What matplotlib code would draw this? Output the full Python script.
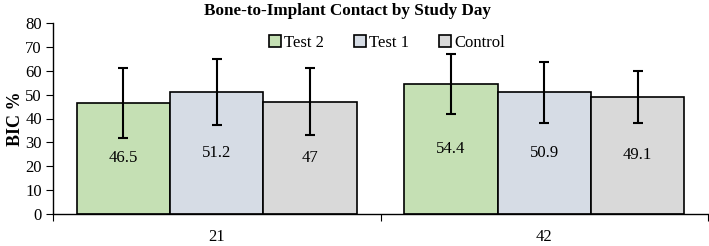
import matplotlib
matplotlib.use("Agg")
import matplotlib.pyplot as plt
import numpy as np

plt.rcParams['font.family'] = ['Liberation Serif', 'DejaVu Serif']

days = ["21", "42"]
series = ["Test 2", "Test 1", "Control"]
values = {
    "Test 2": [46.5, 54.4],
    "Test 1": [51.2, 50.9],
    "Control": [47, 49.1],
}
errors = {
    "Test 2": [14.5, 12.5],
    "Test 1": [13.8, 12.8],
    "Control": [14.0, 11.0],
}
labels = {
    "Test 2": ["46.5", "54.4"],
    "Test 1": ["51.2", "50.9"],
    "Control": ["47", "49.1"],
}
colors = {"Test 2": "#C5E0B4", "Test 1": "#D6DCE5", "Control": "#D9D9D9"}

fig = plt.figure(figsize=(7.09, 2.46), dpi=100)
ax = fig.add_axes([53/709, 1-214/246, 655/709, 191/246])

x = np.arange(len(days))
w = 0.285
for i, s in enumerate(series):
    pos = x + (i - 1) * w
    ax.bar(pos, values[s], width=w, color=colors[s], edgecolor='black',
           linewidth=1.2, label=s, zorder=2)
    ax.errorbar(pos, values[s], yerr=errors[s], fmt='none', ecolor='black',
                elinewidth=1.5, capsize=3.5, capthick=1.5, zorder=3)
    for p, v, t in zip(pos, values[s], labels[s]):
        ax.text(p, v / 2, t, ha='center', va='center', fontsize=12, zorder=4)

ax.set_xlim(-0.5, 1.5)
ax.set_ylim(0, 80)
ax.set_yticks(range(0, 81, 10))
ax.set_xticks([-0.5, 0.5, 1.5])
ax.set_xticklabels([])
ax.set_xticks(x, minor=True)
ax.set_xticklabels(days, minor=True)
ax.tick_params(axis='x', which='minor', length=0, pad=11, labelsize=12)
ax.tick_params(axis='x', which='major', length=5, direction='out')
ax.tick_params(axis='y', length=5, direction='out', labelsize=12, pad=3)
for sp in ['top', 'right']:
    ax.spines[sp].set_visible(False)
ax.spines['left'].set_linewidth(1.0)
ax.spines['bottom'].set_linewidth(1.0)

ax.set_ylabel("BIC %", fontsize=13, fontweight='bold', labelpad=1)
fig.text(348/709, 1-11/246, "Bone-to-Implant Contact by Study Day",
         fontsize=12.3, fontweight='bold', ha='center', va='center')

ax.legend(loc='center', bbox_to_anchor=(0.51, 0.895), ncol=3,
          frameon=False, fontsize=12, handlelength=0.7, handleheight=0.7,
          handletextpad=0.2, columnspacing=1.8, borderaxespad=0)

fig.savefig("out.png", dpi=100)
